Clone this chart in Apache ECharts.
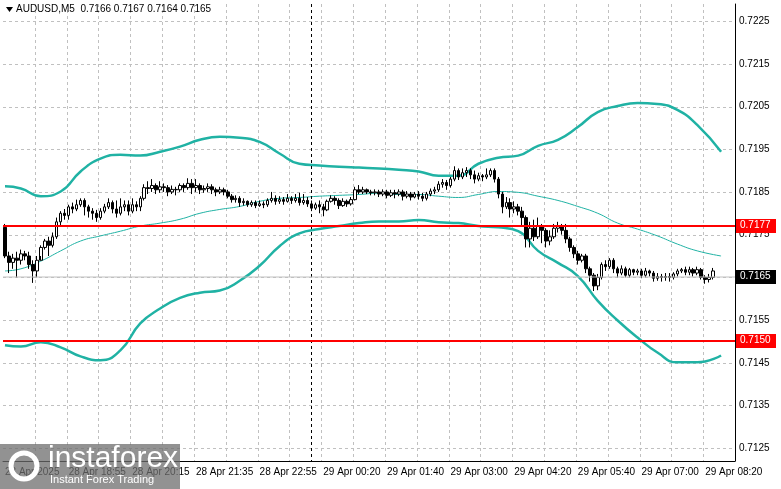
<!DOCTYPE html>
<html>
<head>
<meta charset="utf-8">
<script src="https://cdn.jsdelivr.net/npm/echarts@6/dist/echarts.min.js"></script>
<style>
  html, body { margin: 0; padding: 0; background: #fff; }
  #chart { width: 781px; height: 489px; }
</style>
</head>
<body>
<div id="chart"></div>
<script>
// candles as [open, close, low, high] in points above 0.71000
const candles = [
  [767,700,695,775],[700,685,660,710],[685,695,670,705],[695,690,650,710],[690,705,680,715],
  [705,700,690,712],[700,680,670,710],[680,665,637,690],[665,690,650,700],[690,720,700,725],
  [720,735,715,740],[735,725,700,745],[725,745,720,755],[745,780,740,790],[780,800,770,805],
  [800,795,785,810],[795,815,785,820],[815,810,800,825],[810,820,805,832],[820,830,815,835],
  [830,815,795,835],[815,805,790,820],[805,800,785,812],[800,790,780,808],[790,805,785,812],
  [805,815,800,822],[815,825,810,835],[825,810,800,830],[810,800,790,830],[800,815,795,835],
  [815,820,805,830],[820,805,795,830],[805,820,800,835],[820,815,805,828],[815,835,805,840],
  [835,860,830,868],[860,858,845,875],[858,865,850,880],[865,855,845,870],[855,862,848,875],
  [862,860,850,870],[860,850,840,866],[850,856,845,865],[856,855,842,862],[855,865,850,870],
  [865,860,850,870],[860,870,855,882],[870,860,845,880],[860,865,850,880],[865,855,845,870],
  [855,858,848,865],[858,862,850,870],[862,855,845,868],[855,850,840,860],[850,855,845,862],
  [855,850,842,860],[850,840,835,855],[840,832,825,845],[832,835,825,842],[835,825,815,840],
  [825,828,818,835],[828,820,815,830],[820,825,815,830],[825,818,812,830],[818,822,815,830],
  [822,820,812,828],[820,830,815,835],[830,835,825,850],[835,828,820,842],[828,832,822,840],
  [832,828,820,838],[828,835,825,845],[835,830,822,840],[830,835,825,845],[835,825,818,848],
  [825,830,820,845],[830,822,815,838],[822,812,805,830],[812,820,808,825],[820,815,800,830],
  [815,808,793,822],[808,828,805,832],[828,835,825,842],[835,830,820,840],[830,818,810,835],
  [818,828,815,835],[828,822,815,832],[822,832,818,838],[832,855,830,862],[855,850,845,866],
  [850,855,845,862],[855,850,845,858],[850,848,842,855],[848,850,842,856],[850,845,838,855],
  [845,850,840,856],[850,842,835,855],[842,848,838,855],[848,845,835,855],[845,850,840,856],
  [850,840,830,855],[840,845,835,852],[845,838,830,850],[838,845,835,850],[845,840,832,852],
  [840,835,828,848],[835,845,830,850],[845,852,840,858],[852,855,845,862],[855,868,850,875],
  [868,872,860,880],[872,865,855,878],[865,880,860,885],[880,900,875,910],[900,885,878,905],
  [885,895,880,905],[895,900,885,908],[900,890,880,905],[890,880,870,900],[880,888,875,895],
  [888,885,875,892],[885,890,880,905],[890,900,885,905],[900,880,872,905],[880,845,835,885],
  [845,815,800,850],[815,825,810,838],[825,810,790,835],[810,815,800,828],[815,805,795,822],
  [805,790,770,815],[790,740,720,795],[740,765,720,780],[765,745,735,785],[745,770,740,790],
  [770,760,730,775],[760,735,720,765],[735,745,725,760],[745,765,740,775],[765,770,755,780],
  [770,760,750,775],[760,740,730,775],[740,720,710,745],[720,705,695,725],[705,690,680,712],
  [690,700,685,705],[700,670,660,705],[670,655,640,675],[655,630,618,660],[630,650,620,658],
  [650,680,645,685],[680,675,665,690],[675,690,670,695],[690,670,660,695],[670,660,650,675],
  [660,670,655,678],[670,655,650,675],[655,668,650,672],[668,662,655,670],[662,665,655,670],
  [665,655,648,670],[655,665,650,672],[665,660,652,668],[660,648,640,665],[648,652,642,660],
  [652,650,640,658],[650,652,642,660],[652,650,640,660],[650,658,645,662],[658,665,652,670],
  [665,668,660,672],[668,662,655,675],[662,668,655,675],[668,660,652,672],[660,668,655,675],
  [668,650,645,672],[650,645,635,655],[645,650,638,658],[650,665,645,672]
];
const bandIdx = [0,4,9,14,19,24,29,34,39,44,49,54,59,64,69,74,79,84,89,94,99,104,109,114,119,124,129,134,139,144,149,154,159,164,169,174,180];
const upperBand = [863,858,840,851,898,928,937,935,944,956,972,979,977,967,940,916,912,909,907,905,902,898,888,888,916,930,935,958,972,1002,1037,1051,1058,1056,1042,1007,944];
const lowerBand = [491,488,498,486,465,456,479,542,577,602,614,619,642,677,723,753,763,770,777,781,781,784,779,777,770,767,758,712,684,653,595,549,509,474,451,451,467];
const midLine = [665,670,688,712,735,747,758,770,777,786,800,809,816,828,835,837,840,842,844,847,844,844,840,837,844,851,849,840,830,816,800,777,763,747,728,712,700];
const gridLevels = [0.7125,0.7135,0.7145,0.7155,0.7165,0.7175,0.7185,0.7195,0.7205,0.7215,0.7225];
const redLevels = [0.7177, 0.7150];
const lastPrice = 0.7165;
const cursorBar = 77;
const emptyBarsRight = 5;

const P = v => +(0.71 + v / 100000).toFixed(5);
const months = ['Jan','Feb','Mar','Apr','May','Jun','Jul','Aug','Sep','Oct','Nov','Dec'];
const times = [];
let t = new Date(Date.UTC(2025, 3, 28, 17, 35));
for (let i = 0; i < candles.length + emptyBarsRight; i++) {
  times.push(t);
  t = new Date(t.getTime() + 5 * 60000);
  if (t.getUTCHours() === 0 && t.getUTCMinutes() === 0) t = new Date(t.getTime() + 5 * 60000);
}
const pad = n => String(n).padStart(2, '0');
const cats = times.map(d => d.getUTCDate() + ' ' + months[d.getUTCMonth()] + ' ' + pad(d.getUTCHours()) + ':' + pad(d.getUTCMinutes()));

const ohlc = candles.map(c => [P(c[0]), P(c[1]), P(c[2]), P(c[3])]);
const band = arr => bandIdx.map((k, j) => [k, P(arr[j])]);
const teal = '#20b2a4';
const font = 'Liberation Sans';
const L = 3, R = 735, T = 4, B = 461;

const chart = echarts.init(document.getElementById('chart'));
chart.setOption({
  animation: false,
  textStyle: { fontFamily: font },
  grid: { left: L, right: 781 - R, top: T, bottom: 489 - B },
  xAxis: {
    type: 'category', data: cats, boundaryGap: true,
    axisLine: { lineStyle: { color: '#000' } },
    axisTick: { show: false },
    axisLabel: {
      interval: 15, color: '#000', fontSize: 10, fontFamily: font, align: 'left', margin: 6,
      formatter: (v, i) => i === 0 ? '28 Apr 2025' : v
    },
    splitLine: { show: false }
  },
  yAxis: {
    type: 'value', position: 'right', min: 0.7122, max: 0.7229, interval: 0.0001,
    axisLine: { show: true, lineStyle: { color: '#000' } },
    axisTick: { show: false },
    splitLine: { show: false },
    axisLabel: {
      color: '#000', fontSize: 10, fontFamily: font, margin: 4, showMinLabel: false, showMaxLabel: false,
      formatter: v => gridLevels.some(g => Math.abs(g - v) < 0.00002) ? v.toFixed(4) : ''
    }
  },
  series: [
    { type: 'line', data: band(upperBand), showSymbol: false, smooth: true, lineStyle: { color: teal, width: 2.5 }, z: 3 },
    { type: 'line', data: band(lowerBand), showSymbol: false, smooth: true, lineStyle: { color: teal, width: 2.5 }, z: 3 },
    { type: 'line', data: band(midLine), showSymbol: false, smooth: true, lineStyle: { color: teal, width: 1 }, z: 3 },
    {
      type: 'candlestick', data: ohlc, barWidth: 3, z: 5,
      itemStyle: { color: '#fff', color0: '#000', borderColor: '#000', borderColor0: '#000', borderWidth: 1 }
    }
  ]
});

// grid lines, levels and price tags placed through the chart's own scales
const g = [];
const ypx = v => chart.convertToPixel({ yAxisIndex: 0 }, v);
const xpx = i => chart.convertToPixel({ xAxisIndex: 0 }, i);
const dash = { stroke: '#c0c0c0', lineWidth: 1, lineDash: [3, 3] };
gridLevels.forEach(v => {
  const y = Math.round(ypx(v)) + 0.5;
  g.push({ type: 'line', z: 1, shape: { x1: L, y1: y, x2: R, y2: y }, style: dash });
});
for (let i = 8; i < cats.length; i += 8) {
  const x = Math.round(xpx(i) - 2) + 0.5;
  g.push({ type: 'line', z: 1, shape: { x1: x, y1: T, x2: x, y2: B }, style: dash });
}
const cx = Math.round(xpx(cursorBar)) + 0.5;
g.push({ type: 'line', z: 20, shape: { x1: cx, y1: T, x2: cx, y2: B }, style: { stroke: '#000', lineWidth: 1, lineDash: [3, 3] } });
const tag = (v, bg, line, w) => {
  const y = Math.round(ypx(v));
  g.push({ type: 'line', z: 20, shape: { x1: L, y1: y, x2: R, y2: y }, style: { stroke: line, lineWidth: w } });
  g.push({ type: 'rect', z: 21, shape: { x: R + 1, y: y - 7, width: 40, height: 14 }, style: { fill: bg } });
  g.push({ type: 'text', z: 22, x: R + 5, y: y - 6, style: { text: v.toFixed(4), font: '10px ' + font, fill: '#fff' } });
};
tag(lastPrice, '#000', '#c0c0c0', 1);
redLevels.forEach(v => tag(v, '#ff0000', '#ff0000', 2));
g.push(
  { type: 'polygon', z: 30, shape: { points: [[6, 7], [13, 7], [9.5, 12]] }, style: { fill: '#000' } },
  { type: 'text', z: 30, x: 16, y: 4, style: { text: 'AUDUSD,M5  0.7166 0.7167 0.7164 0.7165', font: '10px ' + font, fill: '#000' } },
  { type: 'rect', z: 30, shape: { x: 0, y: 444, width: 180, height: 45 }, style: { fill: 'rgba(110,110,110,0.75)' } },
  { type: 'text', z: 31, x: 48, y: 444, style: { text: 'instaforex', font: '30px ' + font, fill: '#fff' } },
  { type: 'text', z: 31, x: 50, y: 474, style: { text: 'Instant Forex Trading', font: '11px ' + font, fill: '#fff' } },
  { type: 'circle', z: 31, shape: { cx: 24, cy: 466, r: 13 }, style: { fill: 'none', stroke: '#fff', lineWidth: 5 } }
);
chart.setOption({ graphic: g });
</script>
</body>
</html>
